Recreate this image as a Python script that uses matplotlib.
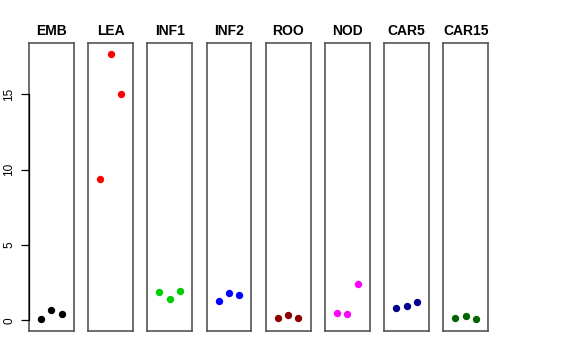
import matplotlib.pyplot as plt

plt.rcParams['font.family'] = ['Liberation Sans', 'DejaVu Sans']

# Values per tissue (three replicates each)
tissues = ['EMB', 'LEA', 'INF1', 'INF2', 'ROO', 'NOD', 'CAR5', 'CAR15']
colors = ['black', 'red', '#00cd00', 'blue', '#8b0000', 'magenta', '#00008b', '#006400']
emb = [0.09, 0.70, 0.44]
lea = [9.38, 17.69, 15.02]
inf1 = [1.90, 1.43, 1.94]
inf2 = [1.26, 1.79, 1.68]
roo = [0.15, 0.33, 0.15]
nod = [0.50, 0.44, 2.41]
car5 = [0.80, 0.95, 1.19]
car15 = [0.17, 0.28, 0.07]
values = [emb, lea, inf1, inf2, roo, nod, car5, car15]
replicates = [1, 2, 3]
yticks = [0, 5, 10, 15]

W, H = 576, 360
fig = plt.figure(figsize=(W / 100, H / 100), dpi=100)

left0 = 29.0
pw = 44.7
step = 59.2
top = 43.0
bottom = 331.0

for i, (name, col, vals) in enumerate(zip(tissues, colors, values)):
    x0 = left0 + i * step
    ax = fig.add_axes([x0 / W, 1 - bottom / H, pw / W, (bottom - top) / H])
    ax.scatter(replicates, vals, color=col, s=28, linewidths=0, zorder=3)
    ax.set_xlim(-0.17, 4.17)
    ax.set_ylim(-0.71, 18.4)
    ax.set_xticks([])
    for sp in ax.spines.values():
        sp.set_color('#555555')
        sp.set_linewidth(1.2)
    ax.set_title(name, fontsize=10, fontweight='bold', pad=6)
    if i == 0:
        ax.set_yticks(yticks)
        ax.set_yticklabels([str(t) for t in yticks], rotation=90, va='center', fontsize=8.5)
        ax.tick_params(axis='y', length=6, width=0.9, pad=4)
        ax.spines['left'].set_bounds(0, 15)
        ax.spines['left'].set_color('black')
        ax.spines['left'].set_linewidth(0.9)
        # grey box edge, since the left spine is shortened to the tick range
        ax.plot([0, 0], [0, 1], transform=ax.transAxes, color='#555555',
                lw=1.2, clip_on=False, zorder=1)
    else:
        ax.set_yticks([])

fig.savefig('out.png', dpi=100)
